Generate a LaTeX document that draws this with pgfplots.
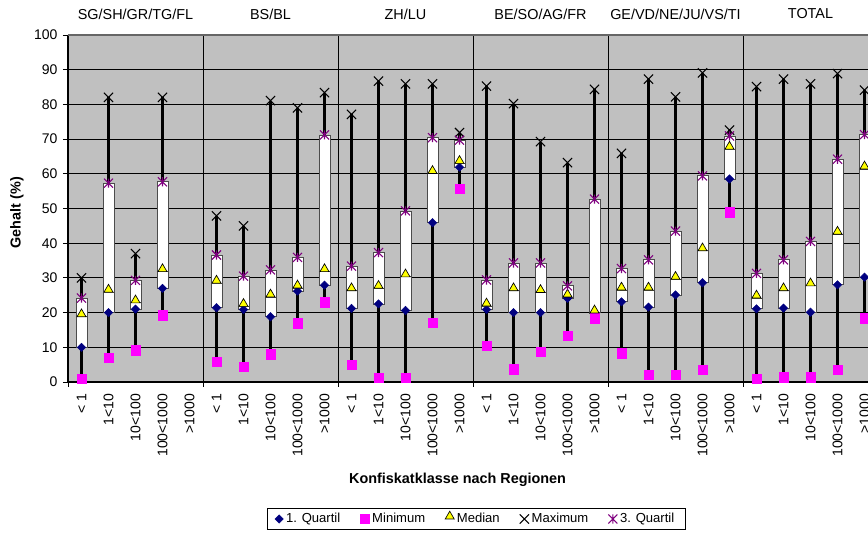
\documentclass[border=0pt]{standalone}
\usepackage{fontspec}
\setmainfont{Liberation Sans}
\usepackage{pgfplots}
\usepackage{pgfplotstable}
\pgfplotsset{compat=1.18}
\usepgfplotslibrary{statistics}

\definecolor{bg}{HTML}{C0C0C0}
\definecolor{navy}{HTML}{000080}
\definecolor{mag}{HTML}{FF00FF}
\definecolor{yel}{HTML}{FFFF00}
\definecolor{purp}{HTML}{800080}

\pgfdeclareplotmark{xstar}{%
  \pgfpathmoveto{\pgfqpoint{0pt}{\pgfplotmarksize}}%
  \pgfpathlineto{\pgfqpoint{0pt}{-\pgfplotmarksize}}%
  \pgfpathmoveto{\pgfqpoint{-\pgfplotmarksize}{\pgfplotmarksize}}%
  \pgfpathlineto{\pgfqpoint{\pgfplotmarksize}{-\pgfplotmarksize}}%
  \pgfpathmoveto{\pgfqpoint{-\pgfplotmarksize}{-\pgfplotmarksize}}%
  \pgfpathlineto{\pgfqpoint{\pgfplotmarksize}{\pgfplotmarksize}}%
  \pgfusepathqstroke}

% x: category position; mn: minimum; q1: 1st quartile; md: median; q3: 3rd quartile; mx: maximum
\pgfplotstableread{
x  mn    q1    md    q3    mx
0  1.0   10.0  18.8  24.2  30.0
1  6.9   20.0  25.9  57.3  82.0
2  9.1   21.0  22.8  29.3  37.0
3  19.2  27.0  31.8  57.7  82.0
5  5.8   21.4  28.5  36.6  47.9
6  4.4   20.9  21.8  30.5  45.0
7  8.0   18.8  24.5  32.3  81.1
8  16.9  26.2  27.1  35.9  79.0
9  23.0  27.9  31.8  71.2  83.4
10 4.9   21.2  26.3  33.4  77.1
11 1.3   22.5  27.0  37.3  86.7
12 1.3   20.6  30.3  49.3  85.9
13 17.1  45.9  60.1  70.4  85.9
14 55.6  61.9  63.0  69.7  71.9
15 10.4  20.9  21.9  29.4  85.3
16 3.7   20.0  26.3  34.3  80.2
17 8.8   20.0  25.8  34.3  69.3
18 13.3  24.1  24.5  27.7  63.2
19 18.4  20.0  19.9  52.7  84.3
20 8.3   23.1  26.5  32.7  65.9
21 2.1   21.6  26.5  35.2  87.3
22 2.1   25.1  29.6  43.5  82.2
23 3.5   28.6  37.8  59.4  89.1
24 48.9  58.5  67.1  70.9  72.6
25 1.0   21.1  24.2  31.3  85.1
26 1.35  21.3  26.3  35.2  87.3
27 1.35  20.1  27.7  40.5  85.9
28 3.5   28.0  42.6  64.2  88.9
29 18.4  30.2  61.4  71.3  84.1
}\data
\pgfplotstablegetrowsof{\data}
\pgfmathtruncatemacro{\nrows}{\pgfplotsretval-1}

\begin{document}
\begin{tikzpicture}
\useasboundingbox (-51pt,-114.75pt) rectangle (600pt,286.5pt);
\begin{axis}[
  at={(0,0)}, anchor=south west,
  scale only axis, width=607.5pt, height=260.25pt,
  xmin=-0.5, xmax=29.5, ymin=0, ymax=100,
  axis x line*=bottom, axis y line*=left,
  axis line style={line width=1.4pt, black},
  axis background/.style={fill=bg},
  clip=false,
  tick align=outside,
  major tick length=3.75pt,
  /pgf/number format/assume math mode=true,
  xtick={0,...,29},
  xticklabels={< 1,1<10,10<100,100<1000,>1000,< 1,1<10,10<100,100<1000,>1000,< 1,1<10,10<100,100<1000,>1000,< 1,1<10,10<100,100<1000,>1000,< 1,1<10,10<100,100<1000,>1000,< 1,1<10,10<100,100<1000,>1000},
  xtick style={draw=none},
  xticklabel style={rotate=90, anchor=east, inner ysep=0pt, inner xsep=5pt, font=\fontsize{10.5}{12}\selectfont},
  extra x ticks={-0.5,4.5,9.5,14.5,19.5,24.5,29.5},
  extra x tick labels={},
  extra x tick style={grid=major, major grid style={black, line width=0.6pt}, xtick style={draw=black, line width=0.6pt}},
  ytick={0,10,...,90},
  extra y ticks={100},
  extra y tick style={major grid style={gray!80!black, line width=0.8pt}},
  ymajorgrids,
  major grid style={black, line width=0.6pt},
  ytick style={black, line width=0.6pt},
  yticklabel style={font=\fontsize{10.5}{12}\selectfont, inner xsep=4pt},
  boxplot/draw direction=y,
  boxplot/box extend=0.41,
  boxplot/whisker extend=0,
  boxplot/every whisker/.style={black, line width=1.6pt},
  boxplot/every box/.style={draw=black!70, fill=white, line width=0.6pt},
  boxplot/every median/.style={draw=black!70, line width=0.6pt},
  legend columns=5,
  legend style={at={(axis description cs:0.5037,-0.3948)}, anchor=center, draw=black, thin,
    font=\fontsize{9.8}{11}\selectfont, inner xsep=6pt, inner ysep=1.5pt,
    /tikz/every even column/.append style={column sep=13pt}},
  legend image code/.code={\draw[#1] plot coordinates {(0.12cm,0cm)};},
]
\pgfplotsinvokeforeach{0,...,\nrows}{%
  \pgfplotstablegetelem{#1}{x}\of\data \edef\bX{\pgfplotsretval}%
  \pgfplotstablegetelem{#1}{mn}\of\data \edef\bMn{\pgfplotsretval}%
  \pgfplotstablegetelem{#1}{q1}\of\data \edef\bQa{\pgfplotsretval}%
  \pgfplotstablegetelem{#1}{md}\of\data \edef\bMd{\pgfplotsretval}%
  \pgfplotstablegetelem{#1}{q3}\of\data \edef\bQc{\pgfplotsretval}%
  \pgfplotstablegetelem{#1}{mx}\of\data \edef\bMx{\pgfplotsretval}%
  \edef\doit{\noexpand\addplot[forget plot, boxplot prepared={draw direction=y, draw position=\bX, lower whisker=\bMn, lower quartile=\bQa, median=\bMd, upper quartile=\bQc, upper whisker=\bMx}] coordinates {};}%
  \doit
}
\addplot[only marks, mark=square*, mark size=2.2pt, mark options={rotate=45, fill=navy, draw=navy}] table[x=x, y=q1]{\data};
\addlegendentry{1. Quartil}
\addplot[only marks, mark=square*, mark size=3.5pt, mark options={fill=mag, draw=mag}] table[x=x, y=mn]{\data};
\addlegendentry{Minimum}
\addplot[only marks, mark=triangle*, mark size=3.9pt, mark options={fill=yel, draw=black, line width=0.5pt, yshift=1.95pt}] table[x=x, y=md]{\data};
\addlegendentry{Median}
\addplot[only marks, mark=x, mark size=4.9pt, mark options={draw=black, line width=0.8pt}] table[x=x, y=mx]{\data};
\addlegendentry{Maximum}
\addplot[only marks, mark=xstar, mark size=3.4pt, mark options={draw=purp, line width=0.8pt}] table[x=x, y=q3]{\data};
\addlegendentry{3. Quartil}

\node[font=\fontsize{10.8}{12}\selectfont] at (axis cs:2,106.05) {SG/SH/GR/TG/FL};
\node[font=\fontsize{10.8}{12}\selectfont] at (axis cs:7,106.05) {BS/BL};
\node[font=\fontsize{10.8}{12}\selectfont] at (axis cs:12,106.05) {ZH/LU};
\node[font=\fontsize{10.8}{12}\selectfont] at (axis cs:17,106.05) {BE/SO/AG/FR};
\node[font=\fontsize{10.8}{12}\selectfont] at (axis cs:22,106.05) {GE/VD/NE/JU/VS/TI};
\node[font=\fontsize{10.8}{12}\selectfont] at (axis cs:27,106.05) {TOTAL};
\node[font=\bfseries\fontsize{10.8}{12}\selectfont] at (axis cs:13.93,-28.2) {Konfiskatklasse nach Regionen};
\node[rotate=90, font=\bfseries\fontsize{10.8}{12}\selectfont] at (axis cs:-2.39,48.8) {Gehalt (\%)};
\end{axis}
\end{tikzpicture}
\end{document}
